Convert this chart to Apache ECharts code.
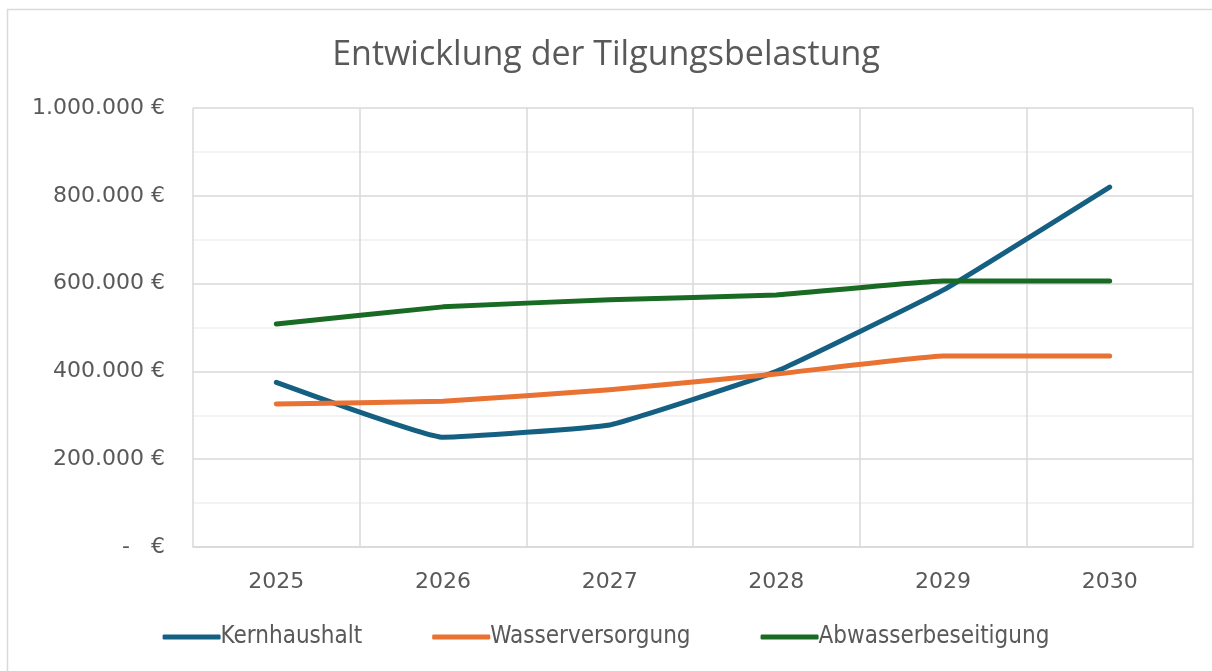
<!DOCTYPE html>
<html>
<head>
<meta charset="utf-8">
<script src="https://cdn.jsdelivr.net/npm/echarts@6/dist/echarts.min.js"></script>
<style>
  html, body { margin: 0; padding: 0; background: #fff; }
  #chart { width: 1212px; height: 671px; }
</style>
</head>
<body>
<div id="chart"></div>
<script>
// Daten
var years = ['2025', '2026', '2027', '2028', '2029', '2030'];
var kernhaushalt = [375000, 250000, 278000, 400000, 585000, 820000];
var wasserversorgung = [326000, 332000, 358000, 394000, 435000, 435000];
var abwasser = [508000, 547000, 563000, 574000, 606000, 606000];

function euro(v) {
    if (v === 0) return '-   €';
    return String(v).replace(/\B(?=(\d{3})+(?!\d))/g, '.') + ' €';
}

var myChart = echarts.init(document.getElementById('chart'));
var option = {
    backgroundColor: '#fff',
    textStyle: { fontFamily: 'DejaVu Sans' },
    graphic: [{
        type: 'rect',
        shape: { x: 7.5, y: 9.5, width: 1220, height: 680 },
        style: { fill: 'none', stroke: '#d9d9d9', lineWidth: 1.5 },
        silent: true
    }],
    title: {
        text: 'Entwicklung der Tilgungsbelastung',
        left: 'center',
        top: 33,
        textStyle: { color: '#595959', fontSize: 34, fontWeight: 'normal', fontFamily: 'Open Sans' }
    },
    legend: {
        bottom: 17,
        left: 'center',
        itemWidth: 58,
        itemHeight: 5,
        itemGap: 70,
        icon: 'roundRect',
        textStyle: { color: '#595959', fontSize: 24, fontFamily: 'DejaVu Sans Condensed', padding: [0, 0, 0, -5] },
        data: ['Kernhaushalt', 'Wasserversorgung', 'Abwasserbeseitigung']
    },
    grid: { left: 193, right: 19, top: 108, bottom: 124 },
    xAxis: {
        type: 'category',
        data: years,
        boundaryGap: true,
        axisLine: { lineStyle: { color: '#d9d9d9', width: 1.5 } },
        axisTick: { show: false },
        axisLabel: { color: '#595959', fontSize: 22, margin: 24, fontFamily: 'DejaVu Sans' },
        splitLine: { show: true, lineStyle: { color: '#d9d9d9', width: 1.5 } }
    },
    yAxis: {
        type: 'value',
        min: 0,
        max: 1000000,
        interval: 200000,
        axisLine: { show: false },
        axisTick: { show: false },
        axisLabel: { color: '#595959', fontSize: 22, margin: 28, fontFamily: 'DejaVu Sans', formatter: euro },
        splitLine: { lineStyle: { color: '#d9d9d9', width: 1.5 } },
        minorTick: { show: false, splitNumber: 2 },
        minorSplitLine: { show: true, lineStyle: { color: '#efefef', width: 1.5 } }
    },
    series: [
        {
            name: 'Kernhaushalt', type: 'line', data: kernhaushalt,
            smooth: 0.1, showSymbol: false, symbol: 'none',
            itemStyle: { color: '#156082' },
            lineStyle: { color: '#156082', width: 5, cap: 'round', join: 'round' }
        },
        {
            name: 'Wasserversorgung', type: 'line', data: wasserversorgung,
            smooth: 0.1, showSymbol: false, symbol: 'none',
            itemStyle: { color: '#E97132' },
            lineStyle: { color: '#E97132', width: 5, cap: 'round', join: 'round' }
        },
        {
            name: 'Abwasserbeseitigung', type: 'line', data: abwasser,
            smooth: 0.1, showSymbol: false, symbol: 'none',
            itemStyle: { color: '#196B24' },
            lineStyle: { color: '#196B24', width: 5, cap: 'round', join: 'round' }
        }
    ]
};
myChart.setOption(option);
</script>
</body>
</html>
